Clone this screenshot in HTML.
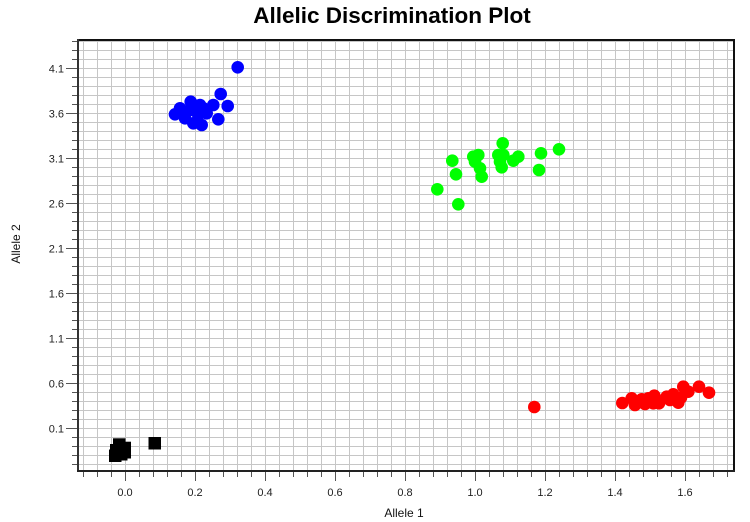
<!DOCTYPE html>
<html>
<head>
<meta charset="utf-8">
<style>
  html, body { margin: 0; padding: 0; background: #ffffff; }
  body { width: 750px; height: 522px; overflow: hidden; }
  svg { display: block; }
  text { font-family: "Liberation Sans", Arial, sans-serif; }
</style>
</head>
<body>
<svg width="750" height="522" viewBox="0 0 750 522" xmlns="http://www.w3.org/2000/svg">
  <defs>
    <pattern id="grid" patternUnits="userSpaceOnUse" x="125" y="428" width="14" height="9">
      <rect x="0" y="0" width="1" height="9" fill="#c6c6c6"/>
      <rect x="0" y="0" width="14" height="1" fill="#c6c6c6"/>
    </pattern>
    <pattern id="xminor" patternUnits="userSpaceOnUse" x="125" y="0" width="14" height="20">
      <rect x="0" y="0" width="1" height="20" fill="#555"/>
    </pattern>
    <pattern id="xmajor" patternUnits="userSpaceOnUse" x="125" y="0" width="70" height="20">
      <rect x="0" y="0" width="1" height="20" fill="#555"/>
    </pattern>
    <pattern id="yminor" patternUnits="userSpaceOnUse" x="0" y="428" width="20" height="9">
      <rect x="0" y="0" width="20" height="1" fill="#555"/>
    </pattern>
    <pattern id="ymajor" patternUnits="userSpaceOnUse" x="0" y="428" width="20" height="45">
      <rect x="0" y="0" width="20" height="1" fill="#555"/>
    </pattern>
  </defs>

  <rect x="0" y="0" width="750" height="522" fill="#ffffff"/>

  <!-- Title -->
  <text x="392" y="23" text-anchor="middle" font-size="22.5" font-weight="bold" fill="#000">Allelic Discrimination Plot</text>

  <!-- plot area grid -->
  <rect x="78" y="41" width="656" height="429" fill="url(#grid)"/>

  <!-- ticks -->
  <rect x="79" y="471" width="655" height="6" fill="url(#xminor)"/>
  <rect x="79" y="471" width="655" height="10" fill="url(#xmajor)"/>
  <rect x="72" y="40" width="5" height="430" fill="url(#yminor)"/>
  <rect x="66" y="40" width="11" height="430" fill="url(#ymajor)"/>

  <!-- data: black squares -->
  <g fill="#000">
    <rect x="109" y="449.5" width="12.5" height="12.5"/>
    <rect x="113" y="438.3" width="12.5" height="12.5"/>
    <rect x="118.5" y="441.7" width="12.5" height="12.5"/>
    <rect x="118.5" y="446" width="12.5" height="12.5"/>
    <rect x="110" y="444" width="12.5" height="12.5"/>
    <rect x="115" y="448" width="12.5" height="12.5"/>
    <rect x="148.5" y="437" width="12.5" height="12.5"/>
  </g>

  <!-- blue -->
  <g fill="#0000ff">
    <circle cx="180" cy="108.3" r="6.3"/>
    <circle cx="190.7" cy="101.7" r="6.3"/>
    <circle cx="200" cy="105" r="6.3"/>
    <circle cx="175" cy="114.3" r="6.3"/>
    <circle cx="185" cy="118.3" r="6.3"/>
    <circle cx="193.3" cy="123.3" r="6.3"/>
    <circle cx="201.7" cy="125" r="6.3"/>
    <circle cx="206.7" cy="113.3" r="6.3"/>
    <circle cx="213.3" cy="105" r="6.3"/>
    <circle cx="218.3" cy="119.3" r="6.3"/>
    <circle cx="220.7" cy="94" r="6.3"/>
    <circle cx="227.7" cy="106" r="6.3"/>
    <circle cx="237.7" cy="67.3" r="6.3"/>
    <circle cx="198.3" cy="115" r="6.3"/>
    <circle cx="203.3" cy="108.3" r="6.3"/>
    <circle cx="190" cy="110" r="6.3"/>
  </g>

  <!-- green -->
  <g fill="#00ff00">
    <circle cx="437.3" cy="189.3" r="6.3"/>
    <circle cx="458.3" cy="204.3" r="6.3"/>
    <circle cx="452.3" cy="160.7" r="6.3"/>
    <circle cx="456" cy="174.3" r="6.3"/>
    <circle cx="473.3" cy="156.7" r="6.3"/>
    <circle cx="478.3" cy="155" r="6.3"/>
    <circle cx="475" cy="161.7" r="6.3"/>
    <circle cx="480" cy="168.3" r="6.3"/>
    <circle cx="481.7" cy="176.7" r="6.3"/>
    <circle cx="502.7" cy="143.3" r="6.3"/>
    <circle cx="498.3" cy="155" r="6.3"/>
    <circle cx="503.3" cy="155" r="6.3"/>
    <circle cx="500" cy="161.7" r="6.3"/>
    <circle cx="501.7" cy="167.3" r="6.3"/>
    <circle cx="513.3" cy="160.7" r="6.3"/>
    <circle cx="518.3" cy="156.7" r="6.3"/>
    <circle cx="541" cy="153.3" r="6.3"/>
    <circle cx="539" cy="170" r="6.3"/>
    <circle cx="559" cy="149.3" r="6.3"/>
  </g>

  <!-- red -->
  <g fill="#ff0000">
    <circle cx="534.3" cy="407" r="6.3"/>
    <circle cx="622.3" cy="403" r="6.3"/>
    <circle cx="631.7" cy="398.3" r="6.3"/>
    <circle cx="635" cy="405" r="6.3"/>
    <circle cx="641.7" cy="399.3" r="6.3"/>
    <circle cx="645" cy="404" r="6.3"/>
    <circle cx="648.3" cy="398.3" r="6.3"/>
    <circle cx="654.3" cy="395.7" r="6.3"/>
    <circle cx="653.3" cy="403.3" r="6.3"/>
    <circle cx="659" cy="403.3" r="6.3"/>
    <circle cx="666.7" cy="396.7" r="6.3"/>
    <circle cx="670" cy="400" r="6.3"/>
    <circle cx="673.3" cy="394.3" r="6.3"/>
    <circle cx="676" cy="398" r="6.3"/>
    <circle cx="678.3" cy="402.7" r="6.3"/>
    <circle cx="681" cy="397.7" r="6.3"/>
    <circle cx="683.3" cy="386.7" r="6.3"/>
    <circle cx="688.3" cy="391.7" r="6.3"/>
    <circle cx="699" cy="386.7" r="6.3"/>
    <circle cx="709" cy="392.7" r="6.3"/>
  </g>

  <!-- frame -->
  <line x1="77" y1="40" x2="735" y2="40" stroke="#111" stroke-width="2"/>
  <line x1="734" y1="39" x2="734" y2="472" stroke="#111" stroke-width="2"/>
  <line x1="78" y1="39" x2="78" y2="472" stroke="#333" stroke-width="2"/>
  <line x1="77" y1="471" x2="735" y2="471" stroke="#222" stroke-width="2"/>

  <!-- Y tick labels -->
  <g font-size="11" fill="#222" text-anchor="end">
    <text x="64" y="72.5">4.1</text>
    <text x="64" y="117.5">3.6</text>
    <text x="64" y="162.5">3.1</text>
    <text x="64" y="207.5">2.6</text>
    <text x="64" y="252.5">2.1</text>
    <text x="64" y="297.5">1.6</text>
    <text x="64" y="342.5">1.1</text>
    <text x="64" y="387.5">0.6</text>
    <text x="64" y="432.5">0.1</text>
  </g>

  <!-- X tick labels -->
  <g font-size="11" fill="#222" text-anchor="middle">
    <text x="125" y="496">0.0</text>
    <text x="195" y="496">0.2</text>
    <text x="265" y="496">0.4</text>
    <text x="335" y="496">0.6</text>
    <text x="405" y="496">0.8</text>
    <text x="475" y="496">1.0</text>
    <text x="545" y="496">1.2</text>
    <text x="615" y="496">1.4</text>
    <text x="685" y="496">1.6</text>
  </g>

  <!-- Axis titles -->
  <text x="404" y="517" text-anchor="middle" font-size="12" fill="#111">Allele 1</text>
  <text x="0" y="0" text-anchor="middle" font-size="12" fill="#111" transform="translate(20,244) rotate(-90)">Allele 2</text>
</svg>
</body>
</html>
